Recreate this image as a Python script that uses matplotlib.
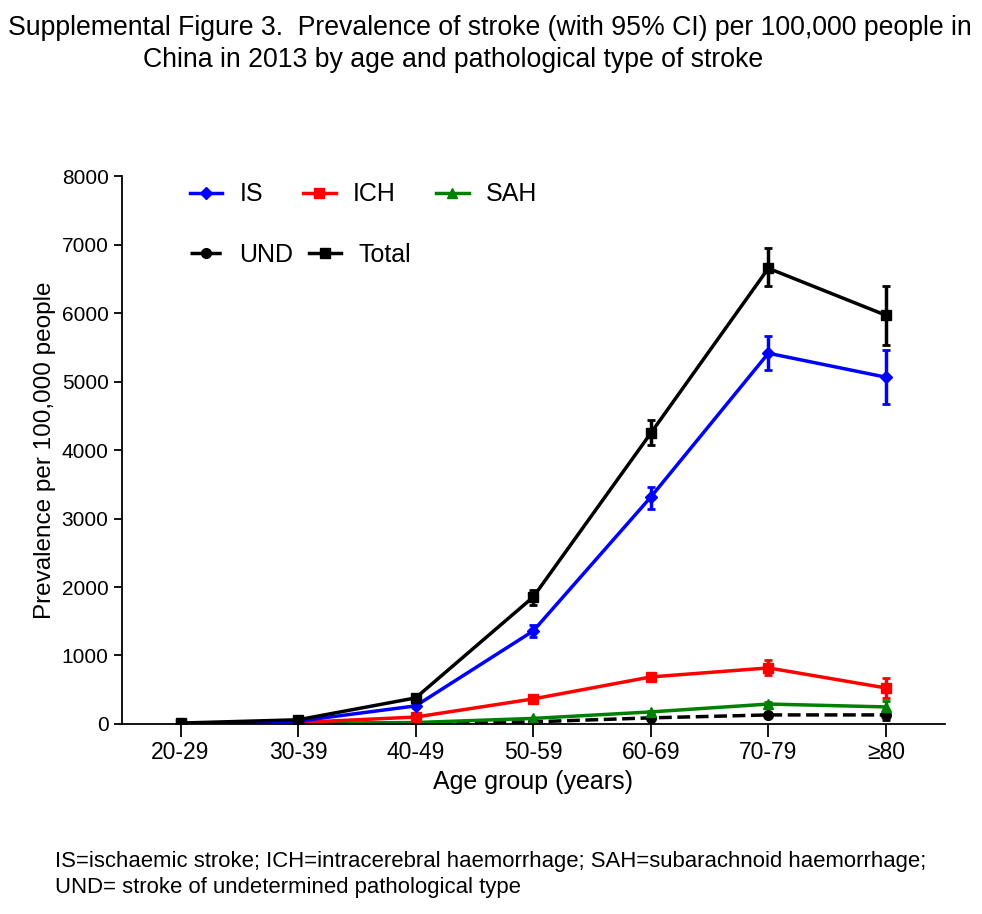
import matplotlib.pyplot as plt
from matplotlib.lines import Line2D

plt.rcParams['font.family'] = ['Liberation Sans', 'DejaVu Sans']

ages = ['20-29', '30-39', '40-49', '50-59', '60-69', '70-79', '≥80']

# prevalence per 100,000 with 95% CI (lower, upper)
is_val = [5, 40, 263, 1358, 3314, 5416, 5066]
is_lo = [2, 30, 235, 1270, 3139, 5168, 4672]
is_hi = [8, 50, 290, 1445, 3460, 5664, 5460]

ich_val = [3, 20, 100, 365, 686, 818, 525]
ich_lo = [1, 14, 85, 335, 640, 710, 380]
ich_hi = [5, 26, 115, 395, 735, 930, 670]

sah_val = [2, 8, 20, 80, 175, 290, 248]
sah_lo = [1, 5, 14, 68, 155, 255, 160]
sah_hi = [3, 11, 26, 92, 195, 325, 335]

und_val = [1, 4, 10, 30, 88, 131, 131]
und_lo = [0, 2, 7, 24, 75, 110, 60]
und_hi = [2, 6, 13, 36, 101, 152, 200]

tot_val = [12, 60, 380, 1854, 4248, 6657, 5971]
tot_lo = [8, 48, 350, 1737, 4073, 6394, 5533]
tot_hi = [16, 72, 410, 1956, 4438, 6949, 6394]

fig = plt.figure(figsize=(9.82, 9.14), dpi=100)
ax = fig.add_axes([0.124, 0.208, 0.838, 0.599])

x = list(range(len(ages)))


def draw(vals, lo, hi, color, marker, ls, ms):
    err = [[v - l for v, l in zip(vals, lo)], [h - v for v, h in zip(vals, hi)]]
    ax.errorbar(x, vals, yerr=err, color=color, marker=marker, ls=ls, lw=2.5,
                ms=ms, capsize=3, elinewidth=2.5, capthick=2)
    # handle for the legend, without the error bar
    return Line2D([], [], color=color, marker=marker, ls=ls, lw=2.5, ms=ms)


h_und = draw(und_val, und_lo, und_hi, 'black', 'o', '--', 7)
h_sah = draw(sah_val, sah_lo, sah_hi, '#008000', '^', '-', 7)
h_ich = draw(ich_val, ich_lo, ich_hi, '#ff0000', 's', '-', 7)
h_is = draw(is_val, is_lo, is_hi, '#0000ff', 'D', '-', 6)
h_tot = draw(tot_val, tot_lo, tot_hi, 'black', 's', '-', 7)

ax.set_xlim(-0.5, 6.5)
ax.set_ylim(0, 8000)
ax.set_xticks(x)
ax.set_xticklabels(ages, fontsize=16.5)
ax.set_yticks(range(0, 8001, 1000))
ax.tick_params(axis='y', labelsize=15, width=1.3, length=6)
ax.tick_params(axis='x', width=1.3, length=9)
for s in ['top', 'right']:
    ax.spines[s].set_visible(False)
for s in ['left', 'bottom']:
    ax.spines[s].set_linewidth(1.3)

ax.set_xlabel('Age group (years)', fontsize=18)
ax.set_ylabel('Prevalence per 100,000 people', fontsize=17.5)

leg1 = ax.legend(handles=[h_is, h_ich, h_sah], labels=['IS', 'ICH', 'SAH'],
                 loc='upper left', bbox_to_anchor=(0.055, 1.03), ncol=3, frameon=False,
                 fontsize=18, columnspacing=1.6, handlelength=1.3, handletextpad=0.7)
ax.add_artist(leg1)
ax.legend(handles=[h_und, h_tot], labels=['UND', 'Total'],
          loc='upper left', bbox_to_anchor=(0.055, 0.92), ncol=2, frameon=False,
          fontsize=18, columnspacing=0.6, handlelength=1.3, handletextpad=0.7)

fig.text(8 / 982, 1 - 28 / 914, 'Supplemental Figure 3.  Prevalence of stroke (with 95% CI) per 100,000 people in',
         ha='left', va='center', fontsize=19.2)
fig.text(143 / 982, 1 - 60 / 914, 'China in 2013 by age and pathological type of stroke',
         ha='left', va='center', fontsize=19.2)

fig.text(55 / 982, 1 - 862 / 914, 'IS=ischaemic stroke; ICH=intracerebral haemorrhage; SAH=subarachnoid haemorrhage;',
         ha='left', va='center', fontsize=15.9)
fig.text(55 / 982, 1 - 887 / 914, 'UND= stroke of undetermined pathological type',
         ha='left', va='center', fontsize=15.9)

fig.savefig('out.png', dpi=100)
